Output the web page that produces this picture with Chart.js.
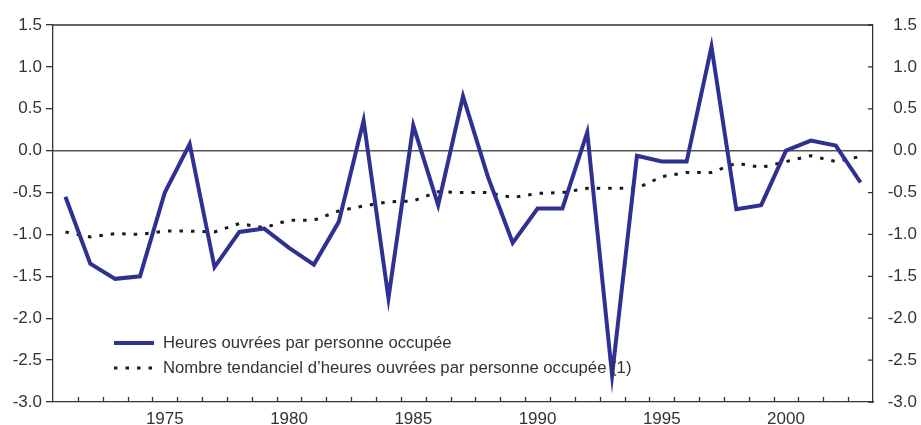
<!DOCTYPE html>
<html>
<head>
<meta charset="utf-8">
<script src="https://cdn.jsdelivr.net/npm/chart.js@4/dist/chart.umd.min.js"></script>
<style>
  html, body { margin: 0; padding: 0; background: #fff; }
  #wrap { width: 921px; height: 425px; position: relative; }
</style>
</head>
<body>
<div id="wrap"><canvas id="myChart"></canvas></div>
<script>
'use strict';
// categories
const years = ['1971', '1972', '1973', '1974', '1975', '1976', '1977', '1978', '1979', '1980',
  '1981', '1982', '1983', '1984', '1985', '1986', '1987', '1988', '1989', '1990',
  '1991', '1992', '1993', '1994', '1995', '1996', '1997', '1998', '1999', '2000',
  '2001', '2002', '2003'];
// series
const heures = [-0.55, -1.35, -1.53, -1.50, -0.50, 0.08, -1.39, -0.97, -0.93, -1.16,
  -1.36, -0.85, 0.36, -1.76, 0.30, -0.65, 0.65, -0.31, -1.10, -0.69,
  -0.69, 0.22, -2.68, -0.06, -0.13, -0.13, 1.24, -0.70, -0.65, 0.00,
  0.12, 0.06, -0.38];
const tendance = [-0.97, -1.03, -0.99, -1.00, -0.96, -0.96, -0.97, -0.87, -0.92, -0.83,
  -0.83, -0.72, -0.66, -0.61, -0.60, -0.49, -0.50, -0.50, -0.56, -0.51,
  -0.50, -0.45, -0.45, -0.45, -0.31, -0.26, -0.26, -0.15, -0.20, -0.13,
  -0.06, -0.13, -0.07];
const labelHeures = 'Heures ouvrées par personne occupée';
const labelTendance = 'Nombre tendanciel d\u2019heures ouvrées par personne occupée (1)';
// tick labels shown on x axis
const xTickYears = ['1975', '1980', '1985', '1990', '1995', '2000'];

const blue = '#2E3192';
const axisColor = '#333333';
const textColor = '#333333';

//frame, zero line, inward ticks and legend
const decor = {
  id: 'decor',
  beforeDatasetsDraw(chart) {
    const { ctx, chartArea: a, scales } = chart;
    const y0 = scales.y.getPixelForValue(0);
    ctx.save();
    ctx.strokeStyle = '#555555';
    ctx.lineWidth = 1.5;
    ctx.beginPath();
    ctx.moveTo(a.left, y0);
    ctx.lineTo(a.right, y0);
    ctx.stroke();
    ctx.restore();
  },
  afterDraw(chart) {
    const { ctx, chartArea: a, scales } = chart;
    ctx.save();
    ctx.strokeStyle = axisColor;
    ctx.lineWidth = 1.3;
    // top border
    ctx.beginPath();
    ctx.moveTo(a.left, a.top);
    ctx.lineTo(a.right, a.top);
    ctx.stroke();
    // x ticks between categories, pointing up
    ctx.beginPath();
    for (let i = 0; i < years.length - 1; i++) {
      const px = (scales.x.getPixelForValue(i) + scales.x.getPixelForValue(i + 1)) / 2;
      ctx.moveTo(Math.round(px) + 0.5, a.bottom);
      ctx.lineTo(Math.round(px) + 0.5, a.bottom - 5);
    }
    // right y ticks, pointing in
    scales.y2.ticks.forEach(t => {
      const py = scales.y2.getPixelForValue(t.value);
      ctx.moveTo(a.right, py);
      ctx.lineTo(a.right - 5, py);
    });
    ctx.stroke();

    // legend
    const lx = a.left + 61;
    const ly1 = a.bottom - 59;
    const ly2 = a.bottom - 34;
    ctx.lineWidth = 4;
    ctx.strokeStyle = blue;
    ctx.beginPath();
    ctx.moveTo(lx, ly1);
    ctx.lineTo(lx + 40, ly1);
    ctx.stroke();
    ctx.lineWidth = 3;
    ctx.strokeStyle = '#1a1a1a';
    ctx.setLineDash([3.5, 8]);
    ctx.beginPath();
    ctx.moveTo(lx, ly2);
    ctx.lineTo(lx + 40, ly2);
    ctx.stroke();
    ctx.setLineDash([]);
    ctx.fillStyle = textColor;
    ctx.font = '16.7px "Liberation Sans", Arial, sans-serif';
    ctx.textBaseline = 'middle';
    ctx.textAlign = 'left';
    ctx.fillText(labelHeures, lx + 49, ly1);
    ctx.fillText(labelTendance, lx + 49, ly2);
    ctx.restore();
  },
};

const data = {
  labels: years,
  datasets: [
    {
      label: labelHeures,
      data: heures,
      borderColor: blue,
      backgroundColor: blue,
      borderWidth: 4,
      borderJoinStyle: 'miter',
      pointRadius: 0,
      tension: 0,
      yAxisID: 'y',
    },
    {
      label: labelTendance,
      data: tendance,
      borderColor: '#1a1a1a',
      backgroundColor: '#1a1a1a',
      borderWidth: 3,
      borderDash: [3.5, 8],
      pointRadius: 0,
      tension: 0,
      yAxisID: 'y',
    },
  ],
};

const tickFont = { family: '"Liberation Sans", Arial, sans-serif', size: 17 };

const config = {
  type: 'line',
  data: data,
  plugins: [decor],
  options: {
    responsive: true,
    maintainAspectRatio: false,
    animation: false,
    layout: {
      padding: { top: 25, right: 4, left: 0, bottom: 0 },
    },
    plugins: {
      legend: { display: false },
      tooltip: { enabled: false },
    },
    scales: {
      x: {
        type: 'category',
        offset: true,
        grid: { display: false, drawTicks: false },
        border: { display: true, color: axisColor, width: 1.3 },
        ticks: {
          autoSkip: false,
          maxRotation: 0,
          padding: 7,
          color: textColor,
          font: tickFont,
          callback: function (v) {
            const lab = this.getLabelForValue(v);
            return xTickYears.includes(lab) ? lab : '';
          },
        },
        afterFit: s => { s.height = 23; },
      },
      y: {
        position: 'left',
        min: -3,
        max: 1.5,
        grid: { drawOnChartArea: false, drawTicks: true, tickLength: 7, color: axisColor, lineWidth: 1.3 },
        border: { display: true, color: axisColor, width: 1.3 },
        ticks: {
          stepSize: 0.5,
          padding: 4,
          color: textColor,
          font: tickFont,
          callback: v => v.toFixed(1),
        },
        afterFit: s => { s.width = 53; },
      },
      y2: {
        position: 'right',
        min: -3,
        max: 1.5,
        grid: { display: false, drawTicks: false },
        border: { display: true, color: axisColor, width: 1.3 },
        ticks: {
          stepSize: 0.5,
          crossAlign: 'far',
          color: textColor,
          font: tickFont,
          callback: v => v.toFixed(1),
        },
        afterFit: s => { s.width = 44; },
      },
    },
  },
};
const myChart = new Chart(document.getElementById('myChart'), config);
</script>
</body>
</html>
